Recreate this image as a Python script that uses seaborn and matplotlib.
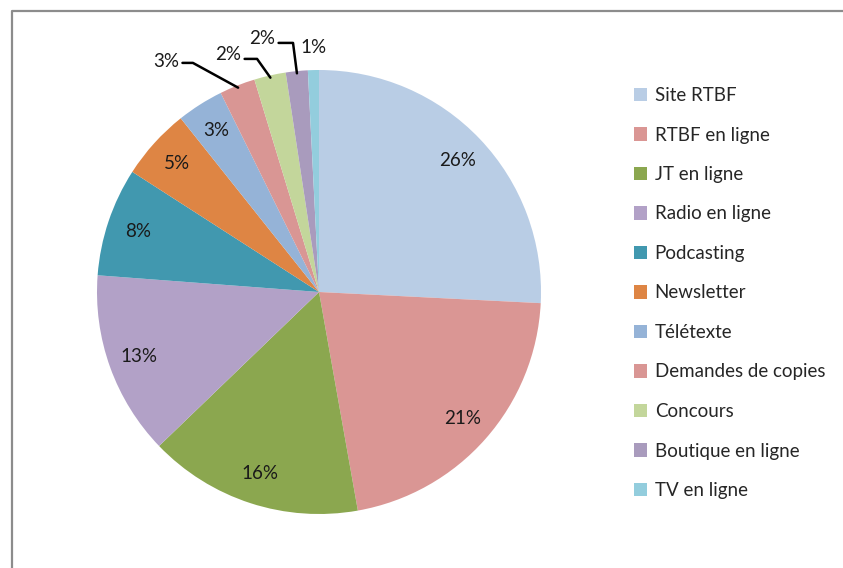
import matplotlib
matplotlib.use("Agg")
import matplotlib.pyplot as plt
import seaborn as sns
from matplotlib.lines import Line2D
import numpy as np

categories = ["Site RTBF", "RTBF en ligne", "JT en ligne", "Radio en ligne", "Podcasting",
              "Newsletter", "Télétexte", "Demandes de copies", "Concours",
              "Boutique en ligne", "TV en ligne"]
values = [25.8, 21.4, 15.6, 13.4, 7.9, 5.2, 3.4, 2.6, 2.3, 1.6, 0.8]
colors = ["#B9CDE5", "#DA9694", "#8BA74F", "#B2A1C7", "#4198AF", "#DE8544",
          "#95B3D7", "#D99694", "#C3D69B", "#A99BBD", "#93CDDD"]

sns.set_theme(style="white")
plt.rcParams['font.family'] = ['Lato', 'DejaVu Sans']

W, H = 843, 568
fig = plt.figure(figsize=(W / 100, H / 100), dpi=100)
fig.patch.set_facecolor("white")

cx, cy, r = 319, 292, 222
ax = fig.add_axes([(cx - r) / W, (H - cy - r) / H, 2 * r / W, 2 * r / H])
ax.axis("off")

fs = 13.5
wedges, texts, autotexts = ax.pie(values, colors=colors, startangle=90, counterclock=False,
                                  autopct="%.0f%%", pctdistance=0.86, radius=1.0,
                                  wedgeprops=dict(linewidth=0),
                                  textprops=dict(fontsize=fs, color="#1a1a1a"))
ax.set_xlim(-1, 1)
ax.set_ylim(-1, 1)
ax.set_aspect("equal")

# small slices: labels outside with leader lines
outside = {7: ((-0.69, 1.04), (-0.568, 1.032)),
           8: ((-0.41, 1.07), (-0.279, 1.05)),
           9: ((-0.257, 1.14), (-0.117, 1.122)),
           10: ((-0.027, 1.10), None)}
for i, (tpos, elbow) in outside.items():
    w = wedges[i]
    mid = np.deg2rad((w.theta1 + w.theta2) / 2)
    ax_pt = (0.99 * np.cos(mid), 0.99 * np.sin(mid))
    autotexts[i].set_position(tpos)
    autotexts[i].set_clip_on(False)
    if elbow is not None:
        ax.add_line(Line2D([tpos[0] + 0.075, elbow[0], ax_pt[0]],
                           [elbow[1], elbow[1], ax_pt[1]],
                           color="black", lw=1.8, clip_on=False))

fig.legend(wedges, categories, loc="upper left", bbox_to_anchor=(634 / W, 1 - 87 / H),
           frameon=False, fontsize=fs, handlelength=0.7, handleheight=0.7,
           handletextpad=0.4, labelspacing=1.2, borderaxespad=0, borderpad=0)

# chart area border
fig.add_artist(Line2D([11.5 / W, 11.5 / W, 1.01], [-0.01, 1 - 10.5 / H, 1 - 10.5 / H],
                      transform=fig.transFigure, color="#8C8C8C", lw=1.6))

fig.savefig("out.png", dpi=100)
